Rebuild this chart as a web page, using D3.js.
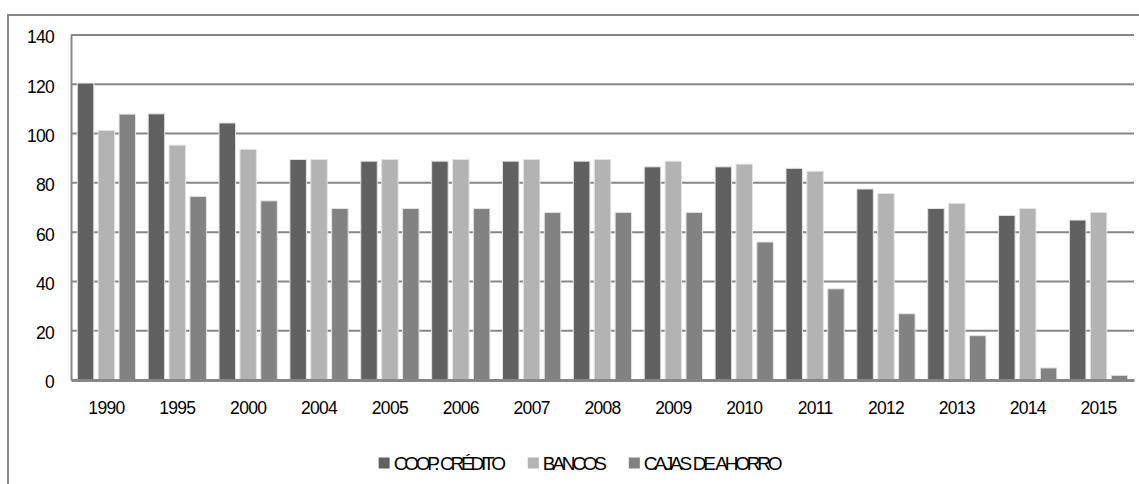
<!DOCTYPE html>
<html lang="es">
  <head>
    <meta charset="UTF-8" />
    <title>Entidades</title>
    <script src="https://d3js.org/d3.v7.min.js"></script>
    <style>
      body { margin: 0; background: #fff; }
      text { font-family: "Liberation Sans", Arial, sans-serif; fill: #000; }
    </style>
  </head>
  <body>
    <div id="graph"></div>
    <script>
      const years = ["1990", "1995", "2000", "2004", "2005", "2006", "2007", "2008",
        "2009", "2010", "2011", "2012", "2013", "2014", "2015"];
      const seriesNames = ["COOP. CRÉDITO", "BANCOS", "CAJAS DE AHORRO"];
      const coop = [120.5, 108, 104.3, 89.5, 88.8, 88.8, 88.8, 88.8, 86.5, 86.5, 85.9, 77.5, 69.6, 66.8, 64.9];
      const bancos = [101.3, 95.3, 93.6, 89.5, 89.5, 89.5, 89.5, 89.5, 88.8, 87.6, 84.7, 75.7, 71.7, 69.6, 68];
      const cajas = [107.9, 74.5, 72.7, 69.6, 69.6, 69.6, 68, 68, 68, 56, 37, 26.9, 18, 4.9, 1.9];
      const yTicks = [0, 20, 40, 60, 80, 100, 120, 140];
      const colors = ["#616161", "#b3b3b3", "#828282"];

      const W = 1139, H = 484;
      const margin = { top: 35, right: 5, bottom: 104, left: 71 };
      const width = W - margin.left - margin.right,
        height = H - margin.top - margin.bottom;

      const records = years.map((y, i) => ({ year: y, values: [coop[i], bancos[i], cajas[i]] }));

      const svg = d3.select("#graph").append("svg")
        .attr("width", W).attr("height", H);

      // outer frame (runs off the right and bottom edges)
      svg.append("rect")
        .attr("x", 8).attr("y", 15)
        .attr("width", W + 20).attr("height", H + 20)
        .attr("fill", "none").attr("stroke", "#888").attr("stroke-width", 2);

      const g = svg.append("g")
        .attr("transform", `translate(${margin.left},${margin.top})`);

      const x0 = d3.scaleBand().domain(years).range([0, width]).padding(0);
      const cw = x0.bandwidth();
      const x1 = d3.scaleBand().domain([0, 1, 2])
        .range([cw * 0.089, cw * 0.911]).paddingInner(0.21).paddingOuter(0);
      const y = d3.scaleLinear().domain([0, 140]).range([height, 0]);

      // gridlines
      g.append("g").selectAll("line").data(yTicks.filter(d => d > 0)).join("line")
        .attr("x1", 0).attr("x2", width)
        .attr("y1", d => y(d)).attr("y2", d => y(d))
        .attr("stroke", "#878787").attr("stroke-width", 2);

      // y axis
      const yAxis = g.append("g")
        .call(d3.axisLeft(y).tickValues(yTicks).tickSize(0).tickPadding(17));
      yAxis.select(".domain").attr("stroke", "#878787").attr("stroke-width", 2);
      yAxis.selectAll("text")
        .style("font-size", "17.5px").style("letter-spacing", "-0.7px")
        .attr("dy", "0.45em");

      // bars
      const groups = g.append("g").selectAll("g").data(records).join("g")
        .attr("transform", d => `translate(${x0(d.year)},0)`);
      groups.selectAll("rect").data(d => d.values).join("rect")
        .attr("x", (d, i) => x1(i))
        .attr("width", x1.bandwidth())
        .attr("y", d => y(d))
        .attr("height", d => height - y(d))
        .attr("fill", (d, i) => colors[i])
        .attr("stroke", "#e4e4e4").attr("stroke-width", 1);

      // x axis
      const xAxis = g.append("g").attr("transform", `translate(0,${height})`)
        .call(d3.axisBottom(x0).tickSize(0).tickPadding(22));
      xAxis.select(".domain").attr("stroke", "#878787").attr("stroke-width", 3);
      xAxis.selectAll("text")
        .style("font-size", "17.5px").style("letter-spacing", "-0.7px");

      // legend
      const legend = svg.append("g").attr("transform", "translate(0,463)");
      const items = legend.selectAll("g").data(seriesNames).join("g");
      items.append("rect")
        .attr("width", 11).attr("height", 11).attr("y", -5.5)
        .attr("fill", (d, i) => colors[i]);
      items.append("text")
        .attr("x", 15).attr("dy", "0.36em")
        .style("font-size", "19px").style("letter-spacing", "-3.2px")
        .style("word-spacing", "1.5px")
        .text(d => d);
      let cx = 0;
      const offsets = [];
      items.each(function () {
        offsets.push(cx);
        const w = 15 + d3.select(this).select("text").node().getComputedTextLength();
        cx += w + 25;
      });
      const total = cx - 25;
      const start = 579 - total / 2;
      items.attr("transform", (d, i) => `translate(${start + offsets[i]},0)`);
    </script>
  </body>
</html>
